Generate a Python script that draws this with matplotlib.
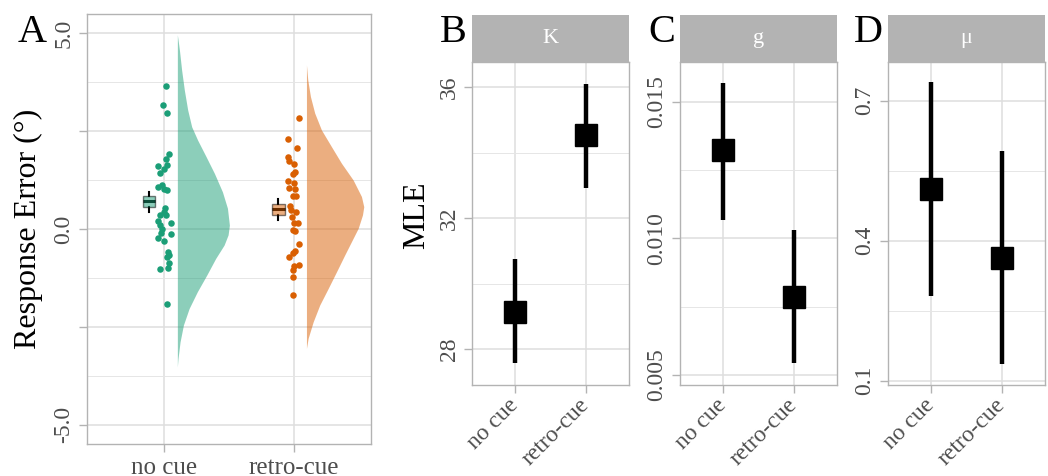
import numpy as np
import matplotlib
matplotlib.use("Agg")
import matplotlib.pyplot as plt
from matplotlib.ticker import FixedLocator

plt.rcParams['font.family'] = ['Liberation Serif', 'DejaVu Serif']

# ---- data ----
conditions = ['no cue', 'retro-cue']
dark = ['#1B9E77', '#D95F02']

# subject mean response errors (deg), with their jitter offsets
err_nocue = [3.65, 3.17, 2.95, 1.92, 1.78, 1.62, 1.64, 1.53, 1.44, 1.12, 1.06, 1.01,
             0.99, 0.53, 0.44, 0.37, 0.35, 0.21, 0.16, 0.10, -0.01, -0.11, -0.14,
             -0.22, -0.31, -0.60, -0.66, -0.72, -0.88, -0.99, -1.03, -1.92]
jit_nocue = [0.013, -0.013, 0.018, 0.036, 0.013, -0.047, 0.018, -0.005, -0.033,
             -0.018, -0.047, -0.005, 0.023, 0.002, -0.005, -0.031, 0.010, -0.047,
             0.047, -0.031, -0.018, -0.026, 0.047, -0.047, 0.0, 0.029, 0.039, 0.021,
             0.039, 0.029, -0.036, 0.018]
err_retro = [2.84, 2.31, 2.08, 1.83, 1.73, 1.65, 1.46, 1.41, 1.22, 1.18, 1.05, 1.01,
             0.83, 0.83, 0.59, 0.49, 0.43, 0.31, 0.16, 0.16, -0.03, -0.04, -0.38,
             -0.55, -0.62, -0.71, -0.91, -0.94, -1.05, -1.23, -1.69]
jit_retro = [0.041, -0.044, 0.023, -0.044, -0.036, 0.002, 0.010, -0.008, -0.044,
             0.002, -0.033, 0.010, -0.008, 0.018, -0.029, -0.018, 0.018, -0.013,
             0.033, 0.002, -0.008, 0.013, 0.044, 0.008, -0.008, -0.036, 0.041,
             0.002, -0.008, -0.008, -0.005]

# half-violin outlines (response error level, half width)
viol_y_nocue = [4.96, 4.57, 4.06, 3.55, 3.04, 2.61, 2.27, 1.85, 1.42, 0.95, 0.53,
                0.10, -0.15, -0.41, -0.75, -1.18, -1.60, -2.03, -2.45, -2.88, -3.31, -3.52]
viol_w_nocue = [0.0, 0.016, 0.033, 0.054, 0.080, 0.111, 0.157, 0.222, 0.287, 0.349,
                0.388, 0.403, 0.393, 0.362, 0.297, 0.227, 0.155, 0.091, 0.047, 0.021,
                0.005, 0.0]
viol_y_retro = [4.19, 3.81, 3.38, 2.96, 2.53, 2.10, 1.68, 1.25, 0.83, 0.57, 0.36,
                0.02, -0.32, -0.66, -1.09, -1.52, -1.94, -2.37, -2.79, -3.05]
viol_w_retro = [0.0, 0.010, 0.031, 0.064, 0.116, 0.194, 0.271, 0.362, 0.426, 0.444,
                0.434, 0.401, 0.349, 0.297, 0.233, 0.168, 0.103, 0.052, 0.013, 0.0]

# small boxes next to the points: median, q1, q3, whisker low, whisker high
box_med = [0.71, 0.50]
box_q1 = [0.57, 0.36]
box_q3 = [0.84, 0.64]
box_lo = [0.44, 0.23]
box_hi = [0.95, 0.76]

# MLE estimates with intervals
params = ['K', 'g', 'μ']
K_est, K_lo, K_hi = [29.14, 34.53], [27.56, 32.93], [30.75, 36.11]
g_est, g_lo, g_hi = [0.01322, 0.00786], [0.01068, 0.00543], [0.01567, 0.01032]
mu_est, mu_lo, mu_hi = [0.510, 0.364], [0.282, 0.135], [0.740, 0.592]

# ---- helpers ----
W, H = 1048, 476
fig = plt.figure(figsize=(W / 100, H / 100), dpi=100)


def px_axes(left, top, right, bottom, **kw):
    return fig.add_axes([left / W, 1 - bottom / H, (right - left) / W, (bottom - top) / H], **kw)


def style(ax):
    for s in ax.spines.values():
        s.set_color('#B3B3B3')
        s.set_linewidth(1.0)
    ax.tick_params(which='major', length=6, width=1, color='#B3B3B3',
                   labelcolor='#4D4D4D', labelsize=17)
    ax.tick_params(which='minor', length=0)
    ax.grid(which='major', color='#DEDEDE', lw=1.1)
    ax.grid(which='minor', axis='y', color='#E6E6E6', lw=0.7)
    ax.set_axisbelow(True)


# ---- panel A ----
axA = px_axes(87, 14, 371, 444)
style(axA)
groups = [(err_nocue, jit_nocue, viol_y_nocue, viol_w_nocue),
          (err_retro, jit_retro, viol_y_retro, viol_w_retro)]
for i, (vals, jit, vy, vw) in enumerate(groups):
    x = i + 1
    axA.fill_betweenx(vy, x + 0.1, x + 0.1 + np.asarray(vw), color=dark[i],
                      alpha=0.5, lw=0, zorder=2)
    axA.scatter(x + np.asarray(jit), vals, s=22, color=dark[i], lw=0, zorder=3)

stats = [dict(med=box_med[i], q1=box_q1[i], q3=box_q3[i], whislo=box_lo[i],
              whishi=box_hi[i], fliers=[]) for i in range(2)]
bp = axA.bxp(stats, positions=[0.88, 1.88], widths=0.1, patch_artist=True,
             showcaps=False, manage_ticks=False,
             boxprops=dict(edgecolor='black', lw=1.0),
             medianprops=dict(color='black', lw=2.2),
             whiskerprops=dict(color='black', lw=1.5))
for i, b in enumerate(bp['boxes']):
    b.set_facecolor(dark[i])
    b.set_alpha(0.5)
    b.set_edgecolor('black')
    b.set_zorder(4)

axA.set_xlim(0.4, 2.6)
axA.set_ylim(-5.49, 5.49)
axA.set_xticks([1, 2])
axA.set_xticklabels(conditions)
axA.set_yticks([-5, -2.5, 0, 2.5, 5])
axA.set_yticklabels(['-5.0', '', '0.0', '', '5.0'], rotation=90, va='center')
axA.yaxis.set_minor_locator(FixedLocator([-3.75, -1.25, 1.25, 3.75]))
axA.tick_params(axis='x', pad=3, labelsize=18)
axA.tick_params(axis='y', pad=3)
fig.text(28 / W, 1 - 229 / H, 'Response Error (°)', rotation=90, fontsize=23,
         ha='center', va='center')
fig.text(18 / W, 1 - 42 / H, 'A', fontsize=29, va='baseline')

# ---- panels B-D ----
panels = [
    (472, 'B', params[0], K_est, K_lo, K_hi, (26.9, 36.77), [28, 32, 36], ['28', '32', '36'], [30, 34]),
    (680, 'C', params[1], g_est, g_lo, g_hi, (0.00463, 0.01645), [0.005, 0.010, 0.015],
     ['0.005', '0.010', '0.015'], [0.0075, 0.0125]),
    (888, 'D', params[2], mu_est, mu_lo, mu_hi, (0.0908, 0.783), [0.1, 0.4, 0.7],
     ['0.1', '0.4', '0.7'], [0.25, 0.55]),
]
for left, letter, name, est, lo, hi, ylim, ticks, labels, minor in panels:
    ax = px_axes(left, 62, left + 157, 385)
    style(ax)
    ax.vlines([1, 2], lo, hi, color='black', lw=3.2, zorder=3)
    ax.plot([1, 2], est, 's', color='black', markersize=16, zorder=4)
    ax.set_xlim(0.4, 2.6)
    ax.set_ylim(*ylim)
    ax.set_xticks([1, 2])
    ax.set_xticklabels(conditions, rotation=45, ha='right', va='center',
                       rotation_mode='anchor')
    ax.set_yticks(ticks)
    ax.set_yticklabels(labels, rotation=90, va='center')
    ax.yaxis.set_minor_locator(FixedLocator(minor))
    ax.tick_params(axis='x', pad=6)
    ax.tick_params(axis='y', pad=3)

    strip = px_axes(left, 15, left + 157, 62)
    strip.set_facecolor('#B3B3B3')
    strip.set_xticks([])
    strip.set_yticks([])
    for s in strip.spines.values():
        s.set_visible(False)
    strip.text(0.5, 0.5, name, color='white', fontsize=16, ha='center', va='center',
               transform=strip.transAxes)
    fig.text((left - 5) / W, 1 - 41.7 / H, letter, fontsize=29, ha='right', va='baseline')

fig.text(417 / W, 1 - 215 / H, 'MLE', rotation=90, fontsize=23, ha='center', va='center')

fig.savefig('out.png', dpi=100)
